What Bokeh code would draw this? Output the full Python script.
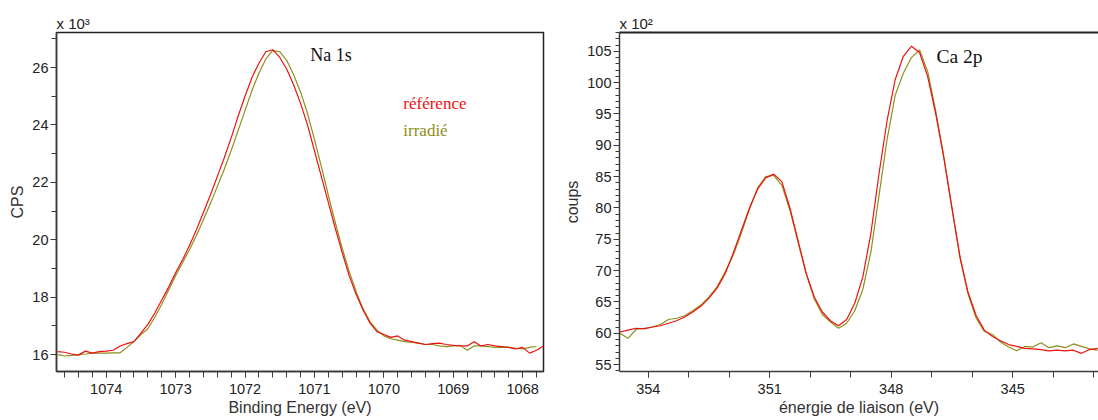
from bokeh.plotting import figure
from bokeh.models import Range1d, SingleIntervalTicker, LinearAxis
from bokeh.layouts import row
from bokeh.models import Label
from bokeh.embed import file_html
from bokeh.resources import INLINE

# ---------------- data ----------------
# Na 1s (left), counts in units of 10^3 CPS
na_energy_ref = [1074.7, 1074.6, 1074.5, 1074.4, 1074.3, 1074.2, 1074.1, 1074.0, 1073.9, 1073.8,
                 1073.7, 1073.6, 1073.5, 1073.4, 1073.3, 1073.2, 1073.1, 1073.0, 1072.9, 1072.8,
                 1072.7, 1072.6, 1072.5, 1072.4, 1072.3, 1072.2, 1072.1, 1072.0, 1071.9, 1071.8,
                 1071.7, 1071.6, 1071.5, 1071.4, 1071.3, 1071.2, 1071.1, 1071.0, 1070.9, 1070.8,
                 1070.7, 1070.6, 1070.5, 1070.4, 1070.3, 1070.2, 1070.1, 1070.0, 1069.9, 1069.8,
                 1069.7, 1069.6, 1069.5, 1069.4, 1069.3, 1069.2, 1069.1, 1069.0, 1068.9, 1068.8,
                 1068.7, 1068.6, 1068.5, 1068.4, 1068.3, 1068.2, 1068.1, 1068.0, 1067.9, 1067.8,
                 1067.7]
na_reference = [16.10, 16.08, 16.02, 15.98, 16.12, 16.05, 16.10, 16.12, 16.15, 16.30,
                16.38, 16.45, 16.75, 17.05, 17.45, 17.90, 18.35, 18.85, 19.30, 19.80,
                20.35, 20.95, 21.55, 22.20, 22.85, 23.55, 24.30, 25.00, 25.65, 26.15,
                26.55, 26.62, 26.35, 25.95, 25.40, 24.75, 24.00, 23.10, 22.20, 21.30,
                20.40, 19.55, 18.75, 18.10, 17.55, 17.10, 16.80, 16.70, 16.60, 16.65,
                16.50, 16.45, 16.40, 16.35, 16.38, 16.40, 16.35, 16.32, 16.30, 16.30,
                16.45, 16.30, 16.35, 16.30, 16.28, 16.25, 16.20, 16.25, 16.05, 16.15,
                16.30]
na_energy_irr = na_energy_ref[:-1]
na_irradie = [16.00, 15.95, 15.97, 16.00, 16.02, 16.05, 16.05, 16.05, 16.06, 16.06,
              16.25, 16.45, 16.70, 16.90, 17.30, 17.75, 18.25, 18.75, 19.20, 19.65,
              20.15, 20.70, 21.25, 21.85, 22.45, 23.10, 23.80, 24.50, 25.20, 25.80,
              26.30, 26.60, 26.55, 26.25, 25.75, 25.15, 24.40, 23.50, 22.55, 21.55,
              20.60, 19.70, 18.90, 18.20, 17.60, 17.15, 16.85, 16.65, 16.55, 16.50,
              16.45, 16.42, 16.40, 16.35, 16.35, 16.30, 16.28, 16.30, 16.32, 16.15,
              16.30, 16.30, 16.28, 16.25, 16.25, 16.25, 16.22, 16.20, 16.25, 16.28]

# Ca 2p (right), counts in units of 10^2
ca_energy = [354.7, 354.5, 354.3, 354.1, 353.9, 353.7, 353.5, 353.3, 353.1, 352.9,
             352.7, 352.5, 352.3, 352.1, 351.9, 351.7, 351.5, 351.3, 351.1, 350.9,
             350.7, 350.5, 350.3, 350.1, 349.9, 349.7, 349.5, 349.3, 349.1, 348.9,
             348.7, 348.5, 348.3, 348.1, 347.9, 347.7, 347.5, 347.3, 347.1, 346.9,
             346.7, 346.5, 346.3, 346.1, 345.9, 345.7, 345.5, 345.3, 345.1, 344.9,
             344.7, 344.5, 344.3, 344.1, 343.9, 343.7, 343.5, 343.3, 343.1, 342.9]
ca_reference = [60.2, 60.5, 60.8, 60.7, 61.0, 61.2, 61.6, 62.0, 62.6, 63.4,
                64.3, 65.6, 67.2, 69.5, 72.8, 76.4, 80.0, 83.0, 84.8, 85.4,
                84.2, 80.0, 74.8, 69.6, 65.8, 63.4, 62.0, 61.2, 62.2, 64.8,
                69.0, 76.0, 85.5, 94.0, 100.5, 104.2, 105.8, 104.8, 101.0, 95.0,
                88.0, 80.0, 72.2, 66.5, 62.8, 60.5, 59.5, 58.8, 58.2, 57.9,
                57.6, 57.5, 57.4, 57.2, 57.3, 57.2, 57.3, 56.8, 57.4, 57.6]
ca_irradie = [60.0, 59.2, 60.6, 60.8, 61.0, 61.4, 62.2, 62.4, 62.8, 63.6,
              64.5, 65.8, 67.4, 69.8, 72.5, 76.0, 79.8, 83.2, 85.0, 85.2,
              83.6, 79.6, 74.5, 69.5, 65.5, 63.0, 61.8, 60.8, 61.6, 63.6,
              67.0, 73.0, 82.0, 91.0, 98.0, 101.5, 104.0, 105.2, 101.8, 95.5,
              88.2, 80.0, 72.0, 66.2, 62.4, 60.3, 59.8, 58.6, 57.8, 57.2,
              57.9, 57.8, 58.5, 57.7, 58.0, 57.7, 58.3, 57.9, 57.5, 57.3]

RED = "#ee1111"
OLIVE = "#8f8f1a"
SANS = "Liberation Sans"
SERIF = "Liberation Serif"
AXC = "#3a3a3a"
TXC = "#222222"


def style_axis(ax, tick_out=6, minor_out=4, label_standoff=2, title_standoff=3):
    ax.axis_line_color = AXC
    ax.axis_line_width = 1.5
    ax.major_tick_line_color = AXC
    ax.minor_tick_line_color = AXC
    ax.major_tick_in = 0
    ax.major_tick_out = tick_out
    ax.minor_tick_in = 0
    ax.minor_tick_out = minor_out
    ax.major_label_text_font = SANS
    ax.major_label_text_font_size = "14.5px"
    ax.major_label_text_color = TXC
    ax.major_label_standoff = label_standoff
    ax.axis_label_text_font = SANS
    ax.axis_label_text_font_size = "16px"
    ax.axis_label_text_font_style = "normal"
    ax.axis_label_text_color = "#333333"
    ax.axis_label_standoff = title_standoff


def style_title(p, text):
    p.title.text = text
    p.title.align = "left"
    p.title.text_font = SANS
    p.title.text_font_size = "15px"
    p.title.text_font_style = "normal"
    p.title.text_color = TXC
    p.title.standoff = 2
    p.title.offset = 0


# ---------------- left: Na 1s ----------------
p1 = figure(width=560, height=420, output_backend="svg", toolbar_location=None,
            x_range=Range1d(1074.716, 1067.70), y_range=Range1d(15.41, 27.22),
            min_border_left=56, min_border_right=17, min_border_top=32, min_border_bottom=49)
p1.xgrid.visible = False
p1.ygrid.visible = False
p1.outline_line_color = "#222222"
p1.outline_line_width = 1.5
p1.xaxis.ticker = SingleIntervalTicker(interval=1, num_minor_ticks=5)
p1.yaxis.ticker = SingleIntervalTicker(interval=2, num_minor_ticks=2)
p1.xaxis.axis_label = "Binding Energy (eV)"
p1.yaxis.axis_label = "CPS"
style_axis(p1.xaxis[0], 6, 6, 6, 2)
style_axis(p1.yaxis[0], 6, 5, 2, 3)
style_title(p1, "x 10³")

p1.line(na_energy_irr, na_irradie, color=OLIVE, line_width=1.2)
p1.line(na_energy_ref, na_reference, color=RED, line_width=1.2)

p1.add_layout(Label(x=1071.06, y=26.42, text="Na 1s", text_font=SERIF,
                    text_font_size="18px", text_color="#111111", text_baseline="middle"))
p1.add_layout(Label(x=1069.72, y=24.75, text="référence", text_font=SERIF,
                    text_font_size="17px", text_color=RED, text_baseline="middle"))
p1.add_layout(Label(x=1069.72, y=23.80, text="irradié", text_font=SERIF,
                    text_font_size="17px", text_color=OLIVE, text_baseline="middle"))

# ---------------- right: Ca 2p ----------------
p2 = figure(width=538, height=420, output_backend="svg", toolbar_location=None,
            x_range=Range1d(354.71, 342.88), y_range=Range1d(53.9, 108.0),
            min_border_left=59, min_border_right=0, min_border_top=32, min_border_bottom=49)
p2.xgrid.visible = False
p2.ygrid.visible = False
p2.outline_line_color = None
p2.xaxis.ticker = SingleIntervalTicker(interval=3, num_minor_ticks=3)
p2.yaxis.ticker = SingleIntervalTicker(interval=5, num_minor_ticks=5)
p2.xaxis.axis_label = "énergie de liaison (eV)"
p2.yaxis.axis_label = "coups"
style_axis(p2.xaxis[0], 6, 6, 6, 2)
style_axis(p2.yaxis[0], 6, 4, 2, 3)
style_title(p2, "x 10²")

top_line = LinearAxis(ticker=SingleIntervalTicker(interval=1000))
top_line.axis_line_color = "#222222"
top_line.axis_line_width = 1.8
top_line.major_tick_line_color = None
top_line.minor_tick_line_color = None
top_line.major_label_text_font_size = "0px"
p2.add_layout(top_line, "above")

p2.line(ca_energy, ca_irradie, color=OLIVE, line_width=1.2)
p2.line(ca_energy, ca_reference, color=RED, line_width=1.2)

p2.add_layout(Label(x=346.88, y=104.2, text="Ca 2p", text_font=SERIF,
                    text_font_size="19.5px", text_color="#111111", text_baseline="middle"))

layout = row(p1, p2, spacing=0)
open("out.html", "w").write(file_html(layout, INLINE))
